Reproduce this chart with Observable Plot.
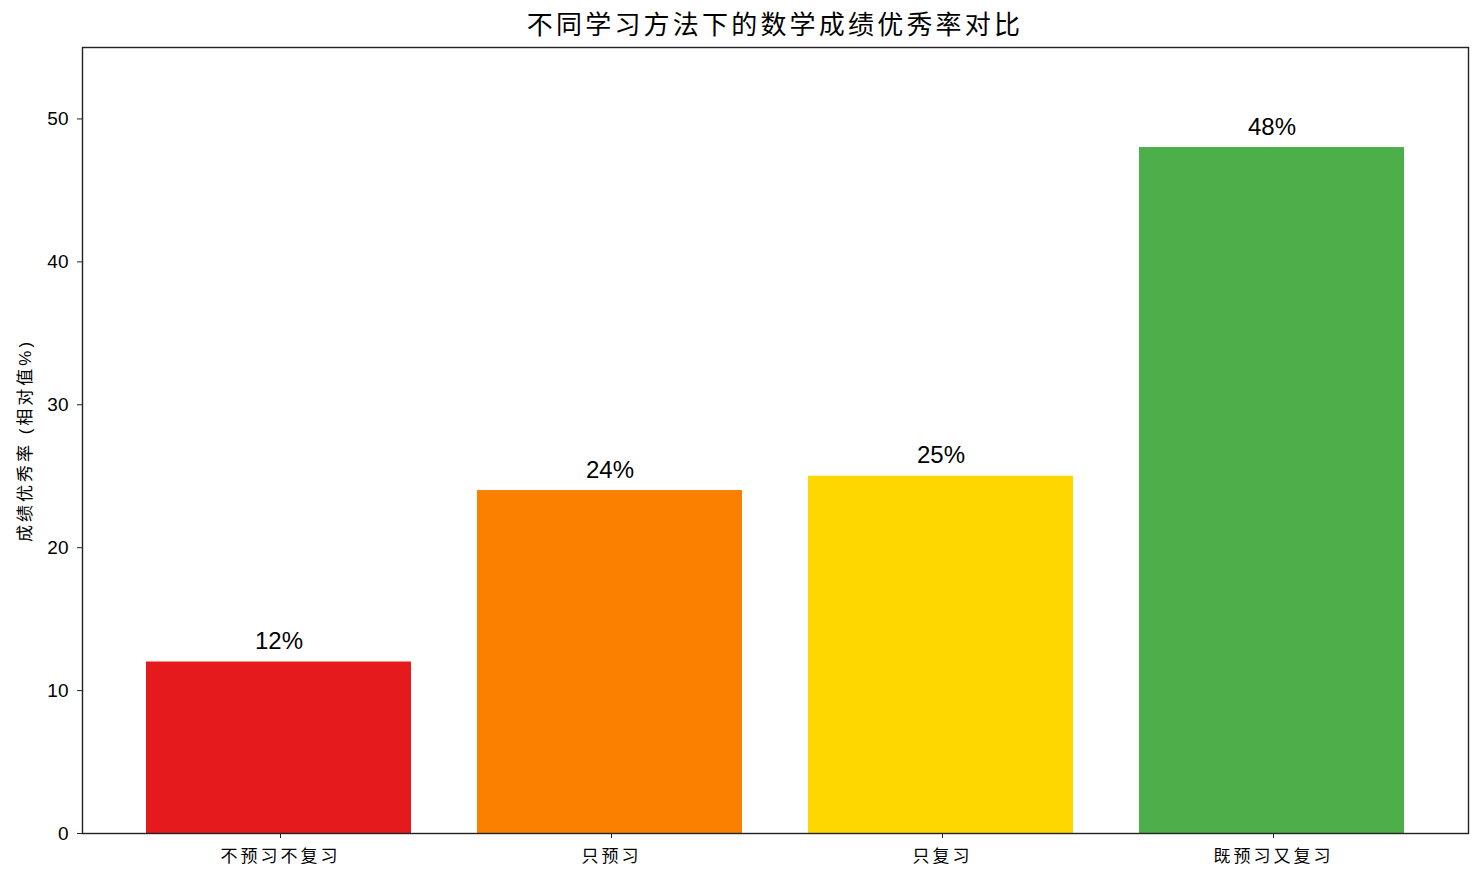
<!DOCTYPE html>
<html>
<head>
<meta charset="utf-8">
<script src="https://cdn.jsdelivr.net/npm/d3@7"></script>
<script src="https://cdn.jsdelivr.net/npm/@observablehq/plot@0.6"></script>
<style>
  body { margin: 0; background: #fff; font-family: "Liberation Sans", "Noto Sans CJK SC", sans-serif; }
  #title { height: 34px; padding-top: 6px; padding-left: 66px; padding-right: 0; line-height: 38px; text-align: center; font-size: 26px; letter-spacing: 3.2px; color: #000; width: 1418px; }
  g[aria-label="x-axis tick label"] text { letter-spacing: 3px; }
  g[aria-label="y-axis label"] text { letter-spacing: 3px; }
</style>
</head>
<body>
<div id="title">不同学习方法下的数学成绩优秀率对比</div>
<div id="chart"></div>
<script>
const categories = ["不预习不复习", "只预习", "只复习", "既预习又复习"];
const values = [12, 24, 25, 48];
const colors = ["#e41a1c", "#fb8000", "#ffd700", "#4daf4a"];
const yTicks = [0, 10, 20, 30, 40, 50];

const data = categories.map((c, i) => ({category: c, value: values[i], color: colors[i]}));

const chart = Plot.plot({
  width: 1484,
  height: 844,
  marginTop: 7,
  marginBottom: 51,
  marginLeft: 82,
  marginRight: 16,
  style: {fontFamily: '"Liberation Sans", "Noto Sans CJK SC", sans-serif', fontSize: "18px", color: "#000", background: "#fff"},
  x: {domain: categories, paddingInner: 0.2, paddingOuter: 0.19, label: null},
  y: {domain: [0, 55], label: null},
  marks: [
    Plot.barY(data, {x: "category", y: "value", fill: "color"}),
    Plot.text(data, {x: "category", y: "value", text: d => d.value + "%", lineAnchor: "bottom", dy: -13, fontSize: 24, fill: "#000"}),
    Plot.frame({stroke: "#222", strokeWidth: 1.4}),
    Plot.axisY({ticks: yTicks, tickSize: 5, tickPadding: 9, fontSize: 19, stroke: "#222", label: "成绩优秀率 (相对值%)", labelAnchor: "center", labelOffset: 64, labelArrow: "none"}),
    Plot.axisX({tickSize: 5, tickPadding: 11, fontSize: 17, stroke: "#222", label: null, dx: 1.5})
  ]
});
chart.querySelectorAll('g[aria-label="y-axis label"] text').forEach(t => t.setAttribute("font-size", 17));
document.getElementById("chart").appendChild(chart);
</script>
</body>
</html>
